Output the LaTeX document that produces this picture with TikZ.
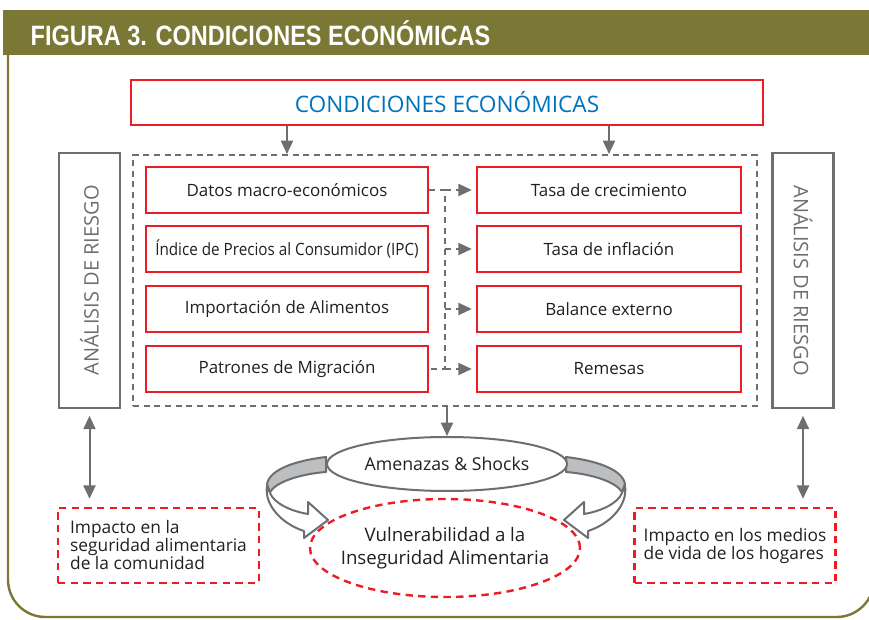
\documentclass[tikz,border=0pt]{standalone}
\usepackage{fontspec}
\usepackage{graphicx}
\setmainfont{Open Sans}
\newfontfamily\headfont[FakeStretch=0.84]{Liberation Sans}
\usetikzlibrary{arrows.meta,shapes.geometric}

\definecolor{oliva}{RGB}{122,120,52}
\definecolor{rojo}{RGB}{237,28,36}
\definecolor{gris}{RGB}{109,110,113}
\definecolor{grisclaro}{RGB}{188,190,192}
\definecolor{azul}{RGB}{0,114,188}
\definecolor{texto}{RGB}{35,31,32}

\tikzset{
  caja/.style={draw=rojo, line width=1.8pt, minimum height=34.5pt, inner sep=2pt,
    text=texto, font=\fontsize{12.7}{14}\selectfont},
  riesgo/.style={draw=gris, line width=1.7pt, minimum width=45.75pt,
    minimum height=191.25pt, inner sep=0pt, text=gris, font=\fontsize{15}{17}\selectfont},
  impacto/.style={draw=rojo, dash pattern=on 5.5pt off 4pt, line width=1.8pt,
    minimum width=150.75pt, minimum height=56.25pt, align=left, text=texto,
    font=\fontsize{13}{13.5}\selectfont},
  punta/.style={-{Triangle[length=10pt,width=9pt]}},
  flecha/.style={draw=gris, line width=1.5pt, punta},
  punteada/.style={draw=gris, line width=1.5pt, dash pattern=on 4.5pt off 3.5pt},
  cinta/.style={draw=gris, line width=1.5pt, line join=round},
}

\begin{document}
\begin{tikzpicture}[x=0.75pt,y=-0.75pt]
  \useasboundingbox (0,0) rectangle (869,620);
  \clip (0,0) rectangle (869,620);

  % marco y titulo
  \draw[oliva, line width=1.8pt, rounded corners=28pt] (8,55) -- (8,617) -- (874,617) -- (874,55);
  \fill[oliva] (3,10) rectangle (869,55);
  \node[anchor=west, text=white, font=\headfont\bfseries\fontsize{21}{24}\selectfont] (titulo) at (26,33) {FIGURA 3. CONDICIONES ECONÓMICAS};

  \node[draw=rojo, line width=1.8pt, minimum width=474pt, minimum height=33.75pt,
    text=azul, font=\fontsize{17}{20}\selectfont] (cond) at (447,102.5) {CONDICIONES ECONÓMICAS};

  \node[punteada, minimum width=468pt, minimum height=188.25pt] (panel) at (445,280.5) {};

  % cajas de datos e indicadores
  \foreach \n/\y/\izq/\der in {1/190/Datos macro-económicos/Tasa de crecimiento,
      2/249/{\scalebox{0.9}[1]{Índice de Precios al Consumidor (IPC)}}/Tasa de inflación,
      3/309/Importación de Alimentos/Balance externo,
      4/369/Patrones de Migración/Remesas}
  {
    \node[caja, minimum width=211.5pt] (izq\n) at (287,\y) {\izq};
    \node[caja, minimum width=198pt] (der\n) at (609,\y) {\der};
  }

  \draw[flecha] (izq1.north |- cond.south) -- (izq1.north |- panel.north);
  \draw[flecha] (der1.north |- cond.south) -- (der1.north |- panel.north);

  \coordinate (bus) at (445,190);
  \draw[punteada] (izq1.east) -- (bus |- izq1) -- (bus |- izq4) -- (izq4.east);
  \foreach \n in {1,...,4}
    \draw[punteada, punta, shorten >=3pt] (bus |- der\n) -- (der\n.west);

  % analisis de riesgo
  \node[riesgo] (riesgoI) at (89.5,280.5) {\rotatebox{90}{ANÁLISIS DE RIESGO}};
  \node[riesgo] (riesgoD) at (803,280.5) {\rotatebox{-90}{ANÁLISIS DE RIESGO}};

  \node[impacto] (impI) at (158.5,545.5) {Impacto en la\\seguridad alimentaria\\de la comunidad};
  \node[impacto] (impD) at (735,545.5) {Impacto en los medios\\de vida de los hogares};

  \draw[flecha, {Triangle[length=10pt,width=9pt]}-{Triangle[length=10pt,width=9pt]}, shorten <=5pt, shorten >=6pt]
    (riesgoI.south) -- (riesgoI.south |- impI.north);
  \draw[flecha, {Triangle[length=10pt,width=9pt]}-{Triangle[length=10pt,width=9pt]}, shorten <=5pt, shorten >=6pt]
    (riesgoD.south) -- (riesgoD.south |- impD.north);

  % flechas curvas
  \foreach \s/\o in {1/0,-1/892}
  {
    \begin{scope}[shift={(\o,0)}, xscale=\s]
      \draw[cinta, fill=grisclaro] (326,457) .. controls (300,460) and (270,468) .. (267,484)
        -- (270,492) .. controls (276,482) and (300,474) .. (326,472) -- cycle;
      \draw[cinta, fill=white] (267,486) .. controls (264,505) and (282,524) .. (304,531)
        -- (304,538) -- (328,520) -- (308,502) -- (308,514)
        .. controls (290,511) and (274,503) .. (270,493) -- cycle;
    \end{scope}
  }

  \node[draw=gris, line width=1.5pt, fill=white, ellipse, minimum width=180pt, minimum height=40.5pt,
    inner sep=0pt, text=texto, font=\fontsize{13.3}{15}\selectfont] (amen) at (447,464) {Amenazas \& Shocks};
  \node[draw=rojo, dash pattern=on 5.5pt off 4pt, line width=1.8pt, ellipse, minimum width=202.5pt,
    minimum height=73.5pt, inner xsep=-7pt, inner ysep=0pt, align=center, text=texto, font=\fontsize{14}{17}\selectfont]
    (vuln) at (445,548) {Vulnerabilidad a la\\Inseguridad Alimentaria};

  \draw[flecha] (panel.south -| amen.north) -- (amen.north);
\end{tikzpicture}
\end{document}
